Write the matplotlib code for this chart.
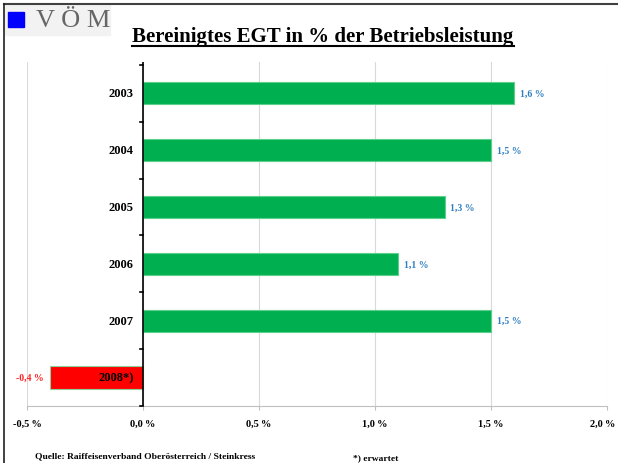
import matplotlib.pyplot as plt
from matplotlib.patches import Rectangle
from matplotlib.lines import Line2D
from matplotlib.transforms import ScaledTranslation

# Daten
jahre = ['2003', '2004', '2005', '2006', '2007', '2008*)']
werte = [1.6, 1.5, 1.3, 1.1, 1.5, -0.4]
wert_labels = ['1,6 %', '1,5 %', '1,3 %', '1,1 %', '1,5 %', '-0,4 %']
x_ticks = [-0.5, 0.0, 0.5, 1.0, 1.5, 2.0]
x_tick_labels = ['-0,5\u2009%', '0,0\u2009%', '0,5\u2009%', '1,0\u2009%', '1,5\u2009%', '2,0\u2009%']

plt.rcParams['font.family'] = ['Liberation Serif', 'DejaVu Serif']

W, H = 618, 464
fig = plt.figure(figsize=(W / 100, H / 100), dpi=100)
ax = fig.add_axes([27 / W, (H - 407) / H, (607 - 27) / W, (407 - 63) / H])

farben = ['#00b050' if v >= 0 else '#ff0000' for v in werte]
kanten = ['#5ccf8a' if v >= 0 else '#8fcf9a' for v in werte]
ypos = list(range(len(jahre)))
ax.barh(ypos, werte, height=0.39, color=farben, edgecolor=kanten, linewidth=0.8, zorder=3)

ax.set_xlim(-0.5, 2.0)
ax.set_ylim(len(jahre) - 0.5, -0.55)
ax.set_xticks(x_ticks)
ax.set_xticklabels(x_tick_labels, fontsize=7.5, fontweight='bold')
ax.tick_params(axis='x', length=3, color='#c0c0c0', pad=6)
ax.set_yticks([])
ax.grid(axis='x', color='#d9d9d9', linewidth=0.8, zorder=0)

# letzte Beschriftung etwas nach links, damit sie nicht abgeschnitten wird
letzte = ax.get_xticklabels()[-1]
letzte.set_transform(letzte.get_transform() + ScaledTranslation(-4 / 100, 0, fig.dpi_scale_trans))

for s in ['top', 'right', 'left']:
    ax.spines[s].set_visible(False)
ax.spines['bottom'].set_color('#c0c0c0')

# Null-Achse mit Teilstrichen zwischen den Kategorien
ax.axvline(0, color='black', linewidth=1.2, zorder=4)
for b in range(len(jahre) + 1):
    yb = b - 0.5
    ax.plot([-0.015, 0], [yb, yb], color='black', linewidth=1.2, zorder=4, clip_on=False)

# Beschriftungen
for i, (j, v, lab) in enumerate(zip(jahre, werte, wert_labels)):
    ax.text(-0.04, i, j, ha='right', va='center', fontsize=9, fontweight='bold', zorder=5)
    if v >= 0:
        ax.text(v + 0.025, i, lab, ha='left', va='center', fontsize=7, fontweight='bold',
                color='#2f7fc0', zorder=5)
    else:
        ax.text(v - 0.03, i, lab, ha='right', va='center', fontsize=7, fontweight='bold',
                color='#ff2020', zorder=5)

# Rahmen
fig.add_artist(Line2D([3.5 / W, 1], [1 - 5 / H, 1 - 5 / H], color='#404040', linewidth=1.5))
fig.add_artist(Line2D([3.5 / W, 3.5 / W], [0, 1 - 5 / H], color='#202020', linewidth=1.2))

# Logo
fig.add_artist(Rectangle((5 / W, 1 - 36 / H), 105 / W, 30 / H, color='#f2f2f2', zorder=0))
fig.add_artist(Rectangle((8 / W, 1 - 28 / H), 16 / W, 15 / H, color='#0000ff'))
fig.text(36 / W, 1 - 21 / H, 'V Ö M', fontsize=19, color='#666666', va='center', ha='left')

# Titel (unterstrichen)
titel = fig.text(323 / W, 1 - 37 / H, 'Bereinigtes EGT in % der Betriebsleistung',
                 fontsize=15, fontweight='bold', ha='center', va='center')
fig.canvas.draw()
bb = titel.get_window_extent().transformed(fig.transFigure.inverted())
fig.add_artist(Line2D([bb.x0, bb.x1], [1 - 47 / H, 1 - 47 / H], color='black', linewidth=1.5))

# Fußnoten
fig.text(35 / W, 1 - 456 / H, 'Quelle: Raiffeisenverband Oberösterreich / Steinkress',
         fontsize=6.8, fontweight='bold', va='center')
fig.text(353 / W, 1 - 458 / H, '*) erwartet', fontsize=6.8, fontweight='bold', va='center')

fig.savefig('out.png', dpi=100)
